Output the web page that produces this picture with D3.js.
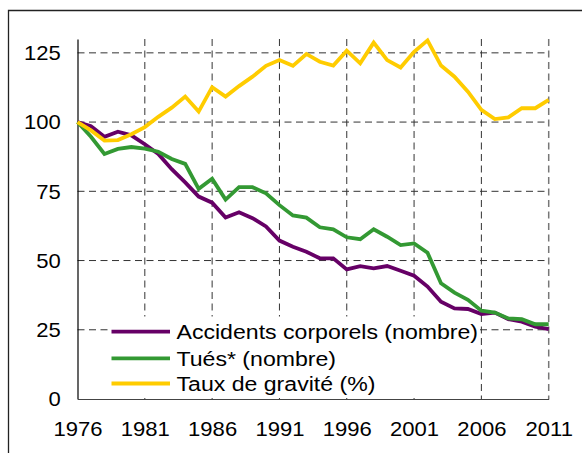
<!DOCTYPE html>
<html lang="fr">
<head>
<meta charset="utf-8">
<script src="https://cdn.jsdelivr.net/npm/d3@7"></script>
<style>
  html, body { margin: 0; padding: 0; background: #fff; }
  svg { display: block; }
  text { font-family: "Liberation Sans", Arial, sans-serif; fill: #000; }
</style>
</head>
<body>
<svg id="chart" width="582" height="453"></svg>
<script>
// Indices base 100 en 1976
const years = d3.range(1976, 2012);
const tickYears = [1976, 1981, 1986, 1991, 1996, 2001, 2006, 2011];
const tickValues = [0, 25, 50, 75, 100, 125];

const accidents = [100, 98.5, 94.7, 96.5, 95.2, 92, 88.5, 83, 78.2, 73.1, 70.9, 65.5,
  67.4, 65.3, 62.3, 57.2, 55, 53.2, 50.8, 50.8, 46.8, 48, 47.2, 48, 46.3, 44.5,
  40.6, 35.1, 32.7, 32.5, 30.7, 31.2, 28.8, 27.9, 26.1, 25.2];

const tues = [100, 94.7, 88.5, 90.3, 91, 90.4, 89.3, 86.7, 84.9, 75.9, 79.5, 72,
  76.5, 76.5, 74.3, 70, 66.3, 65.5, 62, 61.3, 58.4, 57.7, 61.3, 58.6, 55.6, 56.2,
  52.8, 41.8, 38.4, 35.8, 31.9, 31.2, 29.1, 28.8, 27, 27];

const gravite = [100, 97, 93.3, 93.5, 95.6, 98.2, 101.9, 105.2, 109.2, 103.8, 112.6, 109.2,
  113, 116.4, 120.3, 122.4, 120.3, 124.6, 121.8, 120.4, 125.8, 121.2, 128.7, 122.4,
  119.7, 125.4, 129.5, 120.4, 116.4, 111, 104.4, 101.1, 101.7, 105, 105, 108];

const seriesNames = ["Accidents corporels (nombre)", "Tués* (nombre)", "Taux de gravité (%)"];
const seriesColors = ["#660066", "#339933", "#ffcc00"];

const series = [accidents, tues, gravite].map((vals, i) => ({
  name: seriesNames[i],
  color: seriesColors[i],
  values: vals.map((v, j) => ({ year: years[j], value: v }))
}));

const svg = d3.select("#chart");

// Cadre extérieur
svg.append("path")
  .attr("d", "M8.5,453 V10.5 H582")
  .attr("fill", "none")
  .attr("stroke", "#222")
  .attr("stroke-width", 1.3);

const x = d3.scaleLinear().domain([1976, 2011]).range([77.5, 548.7]);
const y = d3.scaleLinear().domain([0, 130]).range([399, 39]);

const fontSize = 21;
const stretch = 1.05;

// Quadrillage horizontal
svg.append("g")
  .selectAll("line")
  .data(tickValues.filter(v => v > 0))
  .join("line")
  .attr("x1", x(1976)).attr("x2", x(2011))
  .attr("y1", d => y(d)).attr("y2", d => y(d))
  .attr("stroke", "#333")
  .attr("stroke-width", 1)
  .attr("stroke-dasharray", "7,4.5");

// Quadrillage vertical
svg.append("g")
  .selectAll("line")
  .data(tickYears.filter(v => v > 1976))
  .join("line")
  .attr("x1", d => x(d)).attr("x2", d => x(d))
  .attr("y1", y(130)).attr("y2", y(0))
  .attr("stroke", d => d === 2011 ? "#777" : "#333")
  .attr("stroke-width", d => d === 2011 ? 1.5 : 1)
  .attr("stroke-dasharray", "7,4.5");

// Axes
const yAxis = d3.axisLeft(y).tickValues(tickValues).tickSize(0).tickPadding(16);
const gy = svg.append("g").attr("transform", `translate(${x(1976)},0)`).call(yAxis);
gy.select(".domain").attr("stroke", "#000").attr("stroke-width", 1.2);
gy.selectAll("text")
  .attr("font-size", fontSize)
  .attr("font-family", "Liberation Sans, Arial, sans-serif")
  .attr("fill", "#000")
  .attr("transform", function () {
    return `translate(${-16 * (stretch - 1)},0) scale(${stretch},1)`;
  })
  .attr("x", -16 / stretch);

const xAxis = d3.axisBottom(x).tickValues(tickYears).tickFormat(d3.format("d")).tickSize(0).tickPadding(22);
const gx = svg.append("g").attr("transform", `translate(0,${y(0)})`).call(xAxis);
gx.select(".domain").attr("stroke", "#444").attr("stroke-width", 1.2);
gx.selectAll("text")
  .attr("font-size", fontSize)
  .attr("font-family", "Liberation Sans, Arial, sans-serif")
  .attr("fill", "#000")
  .attr("transform", `scale(${stretch},1)`);

// Courbes
const line = d3.line().x(d => x(d.year)).y(d => y(d.value));
svg.append("g")
  .selectAll("path")
  .data(series)
  .join("path")
  .attr("d", d => line(d.values))
  .attr("fill", "none")
  .attr("stroke", d => d.color)
  .attr("stroke-width", 3.8)
  .attr("stroke-linejoin", "miter")
  .attr("stroke-linecap", "butt");

// Légende
const legend = svg.append("g");
legend.append("rect")
  .attr("x", 110).attr("y", 316.5)
  .attr("width", 370).attr("height", y(0) - 317.5)
  .attr("fill", "#fff");

const rowY = [331.7, 358.3, 383.5];
const items = legend.selectAll("g.item")
  .data(series)
  .join("g")
  .attr("class", "item")
  .attr("transform", (d, i) => `translate(0,${rowY[i]})`);

items.append("line")
  .attr("x1", 111.5).attr("x2", 170)
  .attr("y1", 0).attr("y2", 0)
  .attr("stroke", d => d.color)
  .attr("stroke-width", 3.8);

items.append("text")
  .attr("transform", `translate(176.5,7.5) scale(${stretch + 0.05},1)`)
  .attr("font-size", fontSize)
  .text(d => d.name);
</script>
</body>
</html>
